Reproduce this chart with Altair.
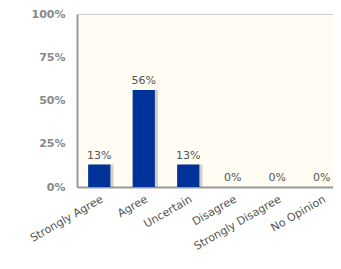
import altair as alt
import pandas as pd

categories = ["Strongly Agree", "Agree", "Uncertain", "Disagree", "Strongly Disagree", "No Opinion"]
values = [13, 56, 13, 0, 0, 0]
y_ticks = [0, 25, 50, 75, 100]

df = pd.DataFrame({"cat": categories, "val": values, "label": [f"{v}%" for v in values]})

FONT = "DejaVu Sans"
xscale = alt.Scale(paddingInner=0.5, paddingOuter=0.25, range=[0, 267])
xenc = alt.X("cat:N", sort=categories, scale=xscale,
             axis=alt.Axis(title=None, labelAngle=-30, ticks=False, labelFont=FONT, labelFontSize=11,
                           labelColor="#555", domainColor="#999", domainWidth=2, labelPadding=6))
xtop = alt.X("cat:N", sort=categories, scale=xscale,
             axis=alt.Axis(title=None, orient="top", labels=False, ticks=False,
                           domainColor="#cccccc", domainWidth=1))
xnone = alt.X("cat:N", sort=categories, scale=xscale, axis=None)
yenc = alt.Y("val:Q", scale=alt.Scale(domain=[0, 100]),
             axis=alt.Axis(title=None, values=y_ticks, labelExpr="datum.value + '%'", ticks=False,
                           grid=False, labelFont=FONT, labelFontSize=11, labelColor="#888",
                           labelFontWeight="bold", domainColor="#999", domainWidth=2, labelPadding=12))

base = alt.Chart(df)
shadow = base.mark_bar(color="#000000", opacity=0.18, xOffset=3).encode(x=xtop, y=yenc)
bars = base.mark_bar(color="#003399").encode(x=xenc, y=yenc)
text = base.mark_text(dy=-9, font=FONT, fontSize=11, color="#555").encode(x=xnone, y=yenc, text="label:N")

chart = alt.layer(shadow, bars, text).resolve_axis(x="independent").properties(
    width=256, height=173,
    autosize=alt.AutoSizeParams(type="none"),
    padding={"left": 69, "top": 6, "right": 0, "bottom": 70},
).configure_view(stroke=None, fill="#fffcf3")

chart.save("out.html", embed_options={"renderer": "svg", "actions": False})
